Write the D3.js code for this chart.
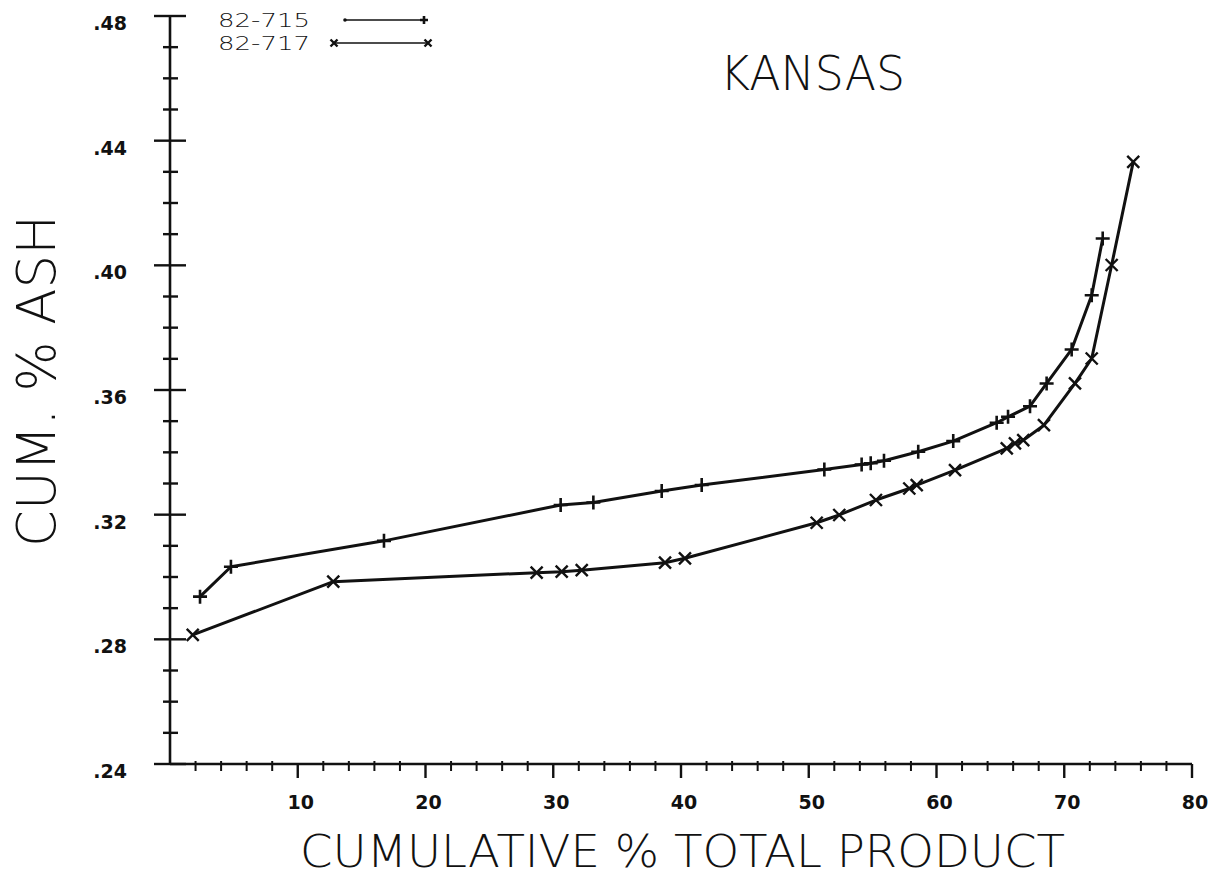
<!DOCTYPE html>
<html>
<head>
<meta charset="utf-8">
<script src="https://cdn.jsdelivr.net/npm/d3@7/dist/d3.min.js"></script>
<style>
  html, body { margin: 0; padding: 0; background: #fff; }
  svg { display: block; }
</style>
</head>
<body>
<svg id="chart" width="1212" height="880"></svg>
<script>
// ---- data ----
const chartTitle = "KANSAS";
const xTitle = "CUMULATIVE % TOTAL PRODUCT";
const yTitle = "CUM. % ASH";
const seriesNames = ["82-715", "82-717"];

// series 82-715 (+ markers)
const s1x = [2.35, 4.77, 16.75, 30.58, 33.14, 38.49, 41.62, 51.22, 54.14, 54.85, 55.89, 58.57, 61.31, 64.71, 65.6, 67.32, 68.62, 70.58, 72.15, 73.01];
const s1y = [0.2937, 0.3033, 0.3116, 0.3231, 0.3239, 0.3276, 0.3295, 0.3345, 0.3361, 0.3365, 0.3373, 0.3402, 0.3436, 0.3495, 0.3514, 0.3548, 0.3621, 0.3730, 0.3904, 0.4086];

// series 82-717 (x markers)
const s2x = [1.78, 12.78, 28.70, 30.66, 32.23, 38.75, 40.31, 50.62, 52.39, 55.26, 57.87, 58.45, 61.45, 65.50, 66.14, 66.79, 68.41, 70.84, 72.15, 73.71, 75.40];
const s2y = [0.2814, 0.2985, 0.3014, 0.3017, 0.3022, 0.3046, 0.3060, 0.3174, 0.3199, 0.3247, 0.3284, 0.3295, 0.3343, 0.3413, 0.3429, 0.3439, 0.3487, 0.3621, 0.3701, 0.4001, 0.4332];

const xMajorTicks = [10, 20, 30, 40, 50, 60, 70, 80];
const xMinorTicks = [2,4,6,8,12,14,16,18,22,24,26,28,32,34,36,38,42,44,46,48,52,54,56,58,62,64,66,68,72,74,76,78];
const yMajorTicks = [0.24, 0.28, 0.32, 0.36, 0.40, 0.44, 0.48];
const yMinorTicks = [0.25,0.26,0.27,0.29,0.30,0.31,0.33,0.34,0.35,0.37,0.38,0.39,0.41,0.42,0.43,0.45,0.46,0.47];

// ---- drawing ----
const INK = "#111";
const svg = d3.select("#chart");
svg.append("rect").attr("width", 1212).attr("height", 880).attr("fill", "#fff");

const x = d3.scaleLinear().domain([0, 80]).range([170, 1192]);
const y = d3.scaleLinear().domain([0.24, 0.48]).range([764, 16]);
const x0 = x(0), y0 = y(0.24);

const g = svg.append("g");

// axis lines
g.append("line").attr("x1", x0).attr("x2", x0).attr("y1", y(0.48)).attr("y2", y0)
  .attr("stroke", INK).attr("stroke-width", 2.6);
g.append("line").attr("x1", x0).attr("x2", x(80)).attr("y1", y0).attr("y2", y0)
  .attr("stroke", INK).attr("stroke-width", 2.6);

// y ticks
g.selectAll(".ymaj").data(yMajorTicks).join("line")
  .attr("x1", x0 - 16).attr("x2", x0 + 16)
  .attr("y1", d => y(d)).attr("y2", d => y(d))
  .attr("stroke", INK).attr("stroke-width", 2.4);
g.selectAll(".ymin").data(yMinorTicks).join("line")
  .attr("x1", x0 - 7).attr("x2", x0 + 8)
  .attr("y1", d => y(d)).attr("y2", d => y(d))
  .attr("stroke", INK).attr("stroke-width", 2.4);

// x ticks
g.selectAll(".xmaj").data(xMajorTicks).join("line")
  .attr("x1", d => x(d)).attr("x2", d => x(d))
  .attr("y1", y0).attr("y2", y0 + 14)
  .attr("stroke", INK).attr("stroke-width", 2.4);
g.selectAll(".xmin").data(xMinorTicks).join("line")
  .attr("x1", d => x(d)).attr("x2", d => x(d))
  .attr("y1", y0 - 3).attr("y2", y0 + 7)
  .attr("stroke", INK).attr("stroke-width", 2);

// tick labels
const fmtY = d => d3.format(".2f")(d).replace(/^0/, "");
g.selectAll(".ylab").data(yMajorTicks).join("text")
  .attr("x", 127).attr("y", d => y(d) + 14)
  .attr("text-anchor", "end")
  .attr("font-family", "DejaVu Sans, sans-serif")
  .attr("font-size", 19).attr("font-weight", "bold")
  .attr("fill", INK)
  .text(fmtY);
g.selectAll(".xlab").data(xMajorTicks).join("text")
  .attr("x", d => x(d) + 3).attr("y", y0 + 45)
  .attr("text-anchor", "middle")
  .attr("font-family", "DejaVu Sans, sans-serif")
  .attr("font-size", 19).attr("font-weight", "bold")
  .attr("fill", INK)
  .text(d => d);

// titles
svg.append("text").attr("x", 300).attr("y", 867)
  .attr("font-family", "DejaVu Sans, sans-serif").attr("font-size", 45).attr("font-weight", 200)
  .attr("textLength", 765).attr("lengthAdjust", "spacingAndGlyphs")
  .attr("fill", INK).text(xTitle);
svg.append("text").attr("transform", "translate(55,547) rotate(-90)")
  .attr("font-family", "DejaVu Sans, sans-serif").attr("font-size", 54).attr("font-weight", 200)
  .attr("textLength", 332).attr("lengthAdjust", "spacingAndGlyphs")
  .attr("fill", INK).text(yTitle);
svg.append("text").attr("x", 720).attr("y", 90)
  .attr("font-family", "DejaVu Sans, sans-serif").attr("font-size", 48).attr("font-weight", 200)
  .attr("textLength", 185).attr("lengthAdjust", "spacingAndGlyphs")
  .attr("fill", INK).text(chartTitle);

// series
const line = d3.line().x(d => x(d[0])).y(d => y(d[1]));
const d1 = s1x.map((v, i) => [v, s1y[i]]);
const d2 = s2x.map((v, i) => [v, s2y[i]]);

g.append("path").datum(d1).attr("d", line).attr("fill", "none")
  .attr("stroke", INK).attr("stroke-width", 3).attr("stroke-linejoin", "round");
g.append("path").datum(d2).attr("d", line).attr("fill", "none")
  .attr("stroke", INK).attr("stroke-width", 3).attr("stroke-linejoin", "round");

function plus(sel, cx, cy, r) {
  sel.append("path").attr("d", `M${cx - r},${cy}H${cx + r}M${cx},${cy - r}V${cy + r}`)
    .attr("stroke", INK).attr("stroke-width", 2.6).attr("fill", "none");
}
function cross(sel, cx, cy, r) {
  sel.append("path").attr("d", `M${cx - r},${cy - r}L${cx + r},${cy + r}M${cx - r},${cy + r}L${cx + r},${cy - r}`)
    .attr("stroke", INK).attr("stroke-width", 2.4).attr("fill", "none");
}
const m1 = g.append("g"), m2 = g.append("g");
d1.forEach(d => plus(m1, x(d[0]), y(d[1]), 7));
d2.forEach(d => cross(m2, x(d[0]), y(d[1]), 6));

// legend
const lg = svg.append("g");
lg.append("text").attr("x", 218).attr("y", 27)
  .attr("font-family", "DejaVu Sans, sans-serif").attr("font-size", 19).attr("font-weight", 300)
  .attr("textLength", 92).attr("lengthAdjust", "spacingAndGlyphs")
  .attr("fill", INK).text(seriesNames[0]);
lg.append("text").attr("x", 218).attr("y", 50)
  .attr("font-family", "DejaVu Sans, sans-serif").attr("font-size", 19).attr("font-weight", 300)
  .attr("textLength", 92).attr("lengthAdjust", "spacingAndGlyphs")
  .attr("fill", INK).text(seriesNames[1]);
lg.append("line").attr("x1", 346).attr("x2", 424).attr("y1", 20).attr("y2", 20)
  .attr("stroke", INK).attr("stroke-width", 1.6);
lg.append("circle").attr("cx", 345).attr("cy", 20).attr("r", 1.8).attr("fill", INK);
plus(lg, 424, 20, 4);
lg.append("line").attr("x1", 334).attr("x2", 428).attr("y1", 43).attr("y2", 43)
  .attr("stroke", INK).attr("stroke-width", 1.6);
cross(lg, 334, 43, 3.5);
cross(lg, 428, 43, 3.5);
</script>
</body>
</html>
